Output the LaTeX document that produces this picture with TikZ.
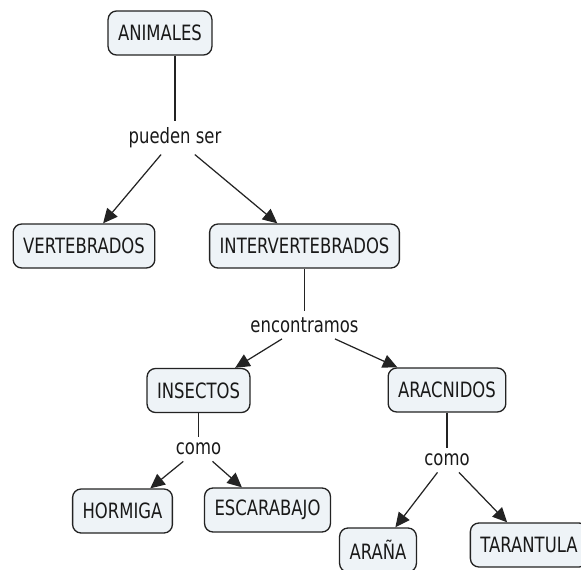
\documentclass[tikz,border=0pt]{standalone}
\usepackage{fontspec}
\newfontfamily\mapfont[FakeStretch=0.78]{DejaVu Sans}
\usepackage{xcolor}
\usepackage{tikz}
\usetikzlibrary{arrows.meta, positioning}

\definecolor{boxfill}{RGB}{238,243,247}
\definecolor{boxline}{RGB}{35,35,35}

\begin{document}
\begin{tikzpicture}[
    on grid,
    every node/.style={font=\mapfont\fontsize{12}{14}\selectfont, text=black!90},
    concept/.style={rectangle, rounded corners=0.17cm, draw=boxline, line width=0.75pt, fill=boxfill, minimum height=0.88cm, inner xsep=0.2cm},
    linkword/.style={inner sep=0.12cm},
    arrow/.style={-{Triangle[length=0.29cm, width=0.27cm]}, line width=0.7pt, boxline},
    plain/.style={line width=0.7pt, boxline},
]
\clip (0,0) rectangle (11.62,-11.40);

\node[concept] (animales) at (3.20,-0.66) {ANIMALES};
\node[linkword, below right=2.10cm and 0.30cm of animales] (pueden) {pueden ser};
\node[concept, below left=2.16cm and 1.82cm of pueden] (vert) {VERTEBRADOS};
\node[concept, below right=2.16cm and 2.59cm of pueden] (inter) {INTERVERTEBRADOS};
\node[linkword, below=1.58cm of inter] (encontr) {encontramos};
\node[concept, below left=1.31cm and 2.12cm of encontr] (insectos) {INSECTOS};
\node[concept, below right=1.30cm and 2.85cm of encontr] (aracn) {ARACNIDOS};
\node[linkword, below=1.17cm of insectos] (comoins) {como};
\node[concept, below left=1.24cm and 1.52cm of comoins] (hormiga) {HORMIGA};
\node[concept, below right=1.22cm and 1.38cm of comoins] (escarabajo) {ESCARABAJO};
\node[linkword, below=1.40cm of aracn] (comoara) {como};
\node[concept, below left=1.80cm and 1.38cm of comoara] (arana) {ARAÑA};
\node[concept, below right=1.70cm and 1.64cm of comoara] (tarantula) {TARANTULA};

\draw[plain] (animales.south -| pueden.north) -- (pueden.north);
\draw[arrow] (pueden) -- (vert);
\draw[arrow] (pueden) -- (inter);
\draw[plain] (inter) -- (encontr);
\draw[arrow] (encontr) -- (insectos);
\draw[arrow] (encontr) -- (aracn);
\draw[plain] (insectos) -- (comoins);
\draw[arrow] (comoins) -- (hormiga);
\draw[arrow] (comoins) -- (escarabajo);
\draw[plain] (aracn) -- (comoara);
\draw[arrow] (comoara) -- (arana);
\draw[arrow] (comoara) -- (tarantula);

\end{tikzpicture}
\end{document}
